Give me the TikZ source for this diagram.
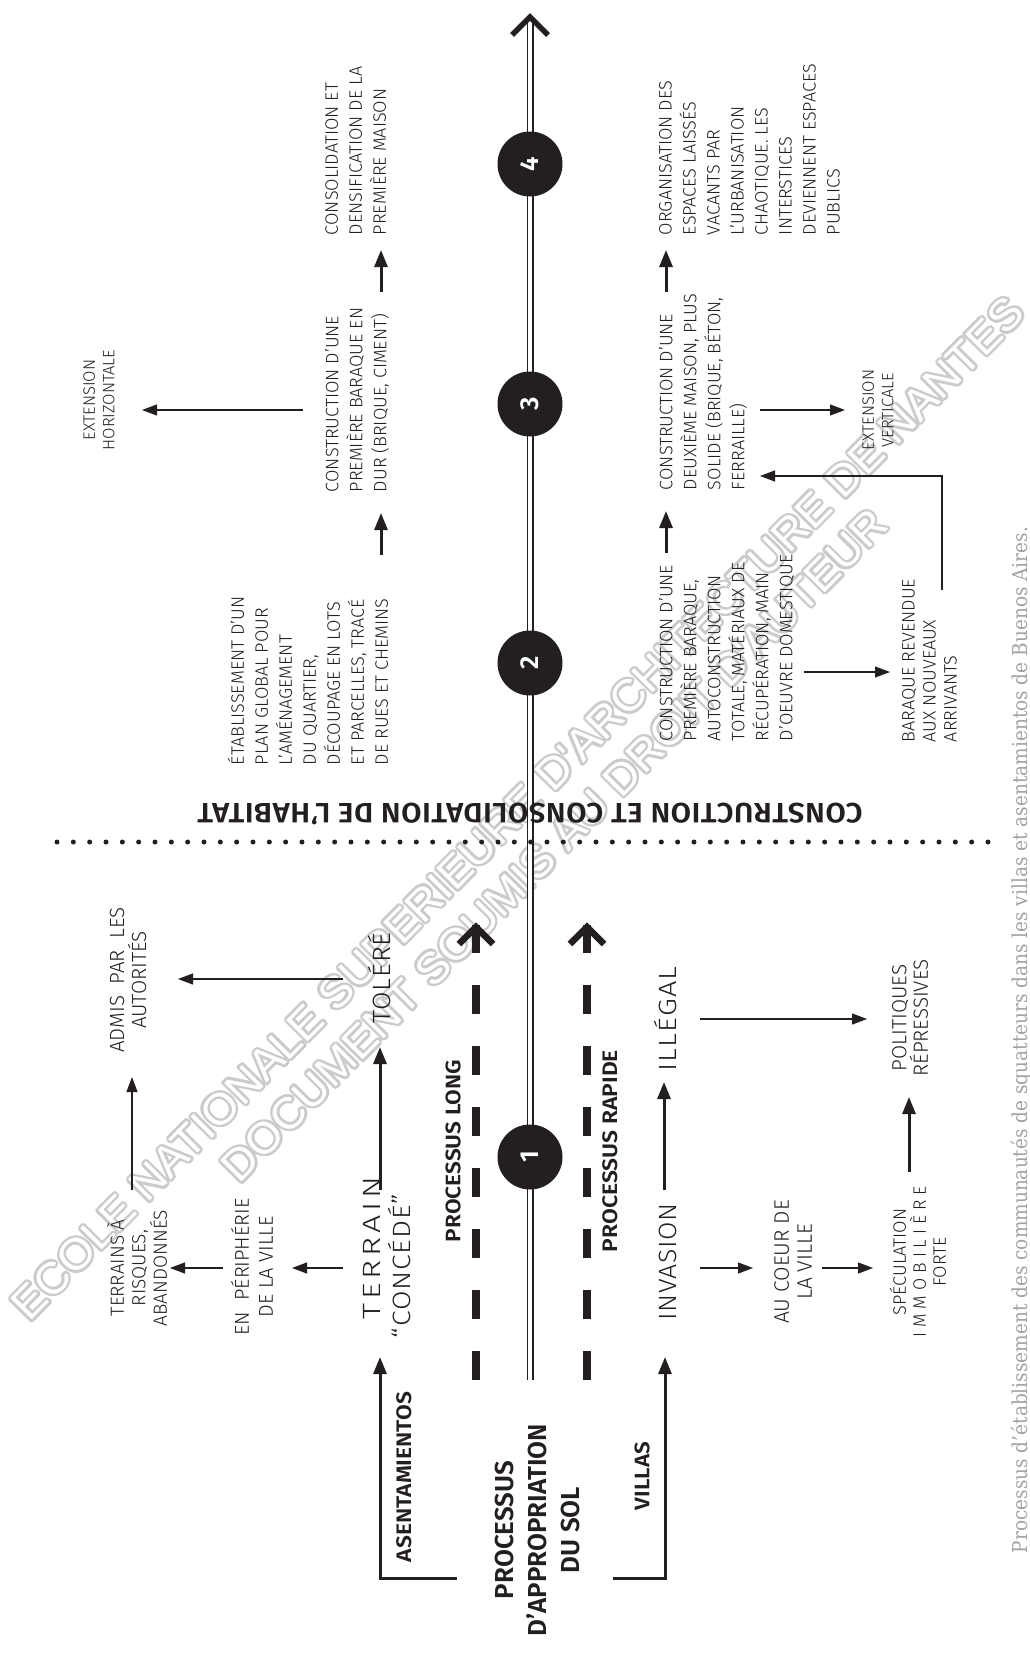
\documentclass[tikz,border=0pt]{standalone}
\usepackage{fontspec}
\usepackage{graphicx}
\IfFontExistsTF{Fira Sans SemiBold}{\def\fbold{Fira Sans SemiBold}}{\def\fbold{Fira Sans Bold}}
\IfFontExistsTF{Fira Sans Light}
  {\setmainfont{Fira Sans Light}[BoldFont=\fbold]}
  {\setmainfont{Fira Sans}}
\newfontfamily\capfont{DejaVu Serif}
\newfontfamily\wmfont{Liberation Sans}
\usetikzlibrary{arrows.meta,calc}
\definecolor{ink}{HTML}{231F20}
\definecolor{wmgray}{HTML}{CBCBCB}
\definecolor{capgray}{HTML}{A3A3A3}
\newcommand\fitw[2]{\resizebox{#1}{\height}{#2}}
\newcommand\fs[2]{\fontsize{#1}{#2}\selectfont}
\newcommand\lsp[2]{{\addfontfeatures{LetterSpace=#1}#2}}
\begin{document}
\begin{tikzpicture}[x=1pt,y=-1pt,
  base/.style={text=ink,inner sep=0pt,outer sep=0pt},
  txt/.style={base,rotate=90},
  blk/.style={txt,align=left,font=\fs{18}{24}},
  blktop/.style={blk,anchor=south west},
  blkbot/.style={blk,anchor=north west},
  lbl/.style={txt,align=center},
  big/.style={txt,anchor=base,font=\fs{25}{25}},
  boldlbl/.style={txt,font=\bfseries\fs{21}{21}},
  thinarr/.style={draw=ink,line width=1.1pt,-{Triangle[length=15pt,width=11pt]}},
  thickarr/.style={draw=ink,line width=3pt,line join=miter,-{Triangle[length=17pt,width=13pt]}},
  num/.style={circle,fill=ink,minimum size=65pt,inner sep=0pt,text=white,rotate=90,font=\bfseries\fs{26}{26}},
  wm/.style={inner sep=0pt,anchor=base,rotate=45.3,font=\wmfont\fs{44}{44}},
]
\useasboundingbox (0,0) rectangle (1029,1654);
\fill[white] (0,0) rectangle (1029,1654);

% ---------- watermark (outlined) ----------
\foreach \a [count=\k] in {0,24,...,336}{
  \node[wm,text=wmgray] (wmA\k) at ($(528.5,819)+(\a:2.4)$) {\fitw{1418pt}{ECOLE NATIONALE SUPERIEURE D'ARCHITECTURE DE NANTES}};
  \node[wm,text=wmgray] (wmB\k) at ($(565,856)+(\a:2.4)$) {\fitw{925pt}{DOCUMENT SOUMIS AU DROIT D'AUTEUR}};
}
\node[wm,text=white] (wmA) at (528.5,819) {\fitw{1418pt}{ECOLE NATIONALE SUPERIEURE D'ARCHITECTURE DE NANTES}};
\node[wm,text=white] (wmB) at (565,856) {\fitw{925pt}{DOCUMENT SOUMIS AU DROIT D'AUTEUR}};

% ---------- main axis ----------
\coordinate (axBot) at (530,1380);
\coordinate (axTop) at (530,22);
\draw[draw=ink,line width=1.3pt,double=white,double distance=4.4pt] (axBot) -- (axTop);
\draw[ink,line width=5.5pt,line join=miter] (512,35) -- (530,17) -- (548,35);

% process dashed arrows
\foreach \x in {476,587}{
  \draw[ink,line width=8pt,dash pattern=on 29pt off 32pt] (\x,1380) -- (\x,925);
  \draw[ink,line width=6.5pt,line join=miter] (\x-17,944) -- (\x,927) -- (\x+17,944);
}

% dotted separator
\foreach \i in {0,...,57}{
  \fill[ink] (57+\i*16.333,842) circle[radius=2.5pt];
}

% step circles
\node[num] (c1) at (530,1157) {1};
\node[num] (c2) at (530,663) {2};
\node[num] (c3) at (530,404) {3};
\node[num] (c4) at (530,164) {4};

% ---------- upper band (left of axis) ----------
\node[blktop] (etab) at (388,765) {ÉTABLISSEMENT D’UN\\PLAN GLOBAL POUR\\L’AMÉNAGEMENT\\DU QUARTIER,\\DÉCOUPAGE EN LOTS\\ET PARCELLES, TRACÉ\\DE RUES ET CHEMINS};
\node[blktop] (con1) at (389,492) {CONSTRUCTION D’UNE\\PREMIÈRE BARAQUE EN\\DUR (BRIQUE, CIMENT)};
\node[blktop] (consol) at (386,235) {CONSOLIDATION ET\\DENSIFICATION DE LA\\PREMIÈRE MAISON};
\node[lbl,font=\fs{16.5}{19.5}] (exth) at (99,400) {EXTENSION\\HORIZONTALE};

% ---------- lower band (right of axis) ----------
\node[blkbot] (con2) at (659,741) {CONSTRUCTION D’UNE\\PREMIÈRE BARAQUE,\\AUTOCONSTRUCTION\\TOTALE, MATÉRIAUX DE\\RÉCUPÉRATION, MAIN\\D’OEUVRE DOMESTIQUE};
\node[blkbot] (con3) at (659,490) {CONSTRUCTION D’UNE\\DEUXIÈME MAISON, PLUS\\SOLIDE (BRIQUE, BÉTON,\\FERRAILLE)};
\node[blkbot] (orga) at (659,235) {ORGANISATION DES\\ESPACES LAISSÉS\\VACANTS PAR\\L’URBANISATION\\CHAOTIQUE. LES\\INTERSTICES\\DEVIENNENT ESPACES\\PUBLICS};
\node[lbl,font=\fs{16.5}{19.5}] (extv) at (878,410) {EXTENSION\\VERTICALE};
\node[blkbot,font=\fs{18}{21}] (barq) at (902,742) {BARAQUE REVENDUE\\AUX NOUVEAUX\\ARRIVANTS};

% ---------- appropriation part ----------
\node[lbl,font=\fs{20.5}{22}] (admis) at (128,980) {ADMIS\ \ PAR\ \ LES\\AUTORITÉS};
\node[lbl,font=\fs{19}{21.5}] (terrains) at (137,1268) {TERRAINS À\\RISQUES,\\ABANDONNÉS};
\node[lbl,font=\fs{20}{24}] (periph) at (252,1267) {EN\ \ PÉRIPHÉRIE\\DE LA VILLE};
\node[big] (terrain) at (380,1248) {\fitw{143pt}{\lsp{12}{TERRAIN}}};
\node[big] (concede) at (410,1266) {\fitw{144pt}{\lsp{3}{“CONCÉDÉ”}}};
\node[big] (tolere) at (390,978) {\fitw{91pt}{\lsp{3}{TOLÉRÉ}}};
\node[big] (invasion) at (676,1262) {\fitw{117pt}{\lsp{2}{INVASION}}};
\node[big] (illegal) at (676,1019) {\fitw{105pt}{\lsp{4}{ILLÉGAL}}};
\node[lbl,font=\fs{21}{23}] (coeur) at (793,1262) {AU COEUR DE\\LA VILLE};
\node[lbl,font=\fs{18}{20}] (specu) at (918,1262) {SPÉCULATION\\\fitw{151pt}{I M M O B I L I È R E}\\FORTE};
\node[lbl,font=\fs{20.5}{21.5}] (polit) at (910,1018) {POLITIQUES\\RÉPRESSIVES};

\node[boldlbl] (plong) at (453,1151) {\fitw{182pt}{PROCESSUS LONG}};
\node[boldlbl] (prapide) at (610,1151) {\fitw{202pt}{PROCESSUS RAPIDE}};
\node[boldlbl] (asent) at (404,1477) {\fitw{170pt}{ASENTAMIENTOS}};
\node[boldlbl] (villas) at (642,1476) {\fitw{68pt}{VILLAS}};
\node[txt,align=center,font=\bfseries\fs{26}{33}] (title) at (537,1530) {PROCESSUS\\D’APPROPRIATION\\DU SOL};
\node[base,rotate=180,font=\bfseries\fs{28}{28}] (habitat) at (530,814) {\fitw{665pt}{\lsp{2}{CONSTRUCTION ET CONSOLIDATION DE L’HABITAT}}};

% caption
\node[base,rotate=90,anchor=base,text=capgray,font=\capfont\fs{20.5}{20.5}] (caption) at (1027,1040) {\fitw{1026pt}{Processus d’établissement des communautés de squatteurs dans les villas et asentamientos de Buenos Aires.}};

% ---------- connector ends ----------
\coordinate (a1s) at (303,410);  \coordinate (a1e) at (142,410);
\coordinate (a2s) at (381,555);  \coordinate (a2e) at (381,513);
\coordinate (a3s) at (381,292);  \coordinate (a3e) at (381,250);
\coordinate (a4s) at (666,553);  \coordinate (a4e) at (666,511);
\coordinate (a5s) at (666,292);  \coordinate (a5e) at (666,250);
\coordinate (a6s) at (760,410);  \coordinate (a6e) at (845,410);
\coordinate (a7s) at (942,590);  \coordinate (a7e) at (760,476);
\coordinate (a8s) at (804,672);  \coordinate (a8e) at (890,672);
\coordinate (b1s) at (343,979);  \coordinate (b1e) at (178,979);
\coordinate (b2s) at (132,1190); \coordinate (b2e) at (132,1077);
\coordinate (b3s) at (223,1268); \coordinate (b3e) at (170,1268);
\coordinate (b4s) at (343,1268); \coordinate (b4e) at (292,1268);
\coordinate (b5s) at (380,1190); \coordinate (b5e) at (380,1047);
\coordinate (b6s) at (664,1190); \coordinate (b6e) at (664,1082);
\coordinate (b7s) at (700,1019); \coordinate (b7e) at (867,1019);
\coordinate (b8s) at (700,1268); \coordinate (b8e) at (753,1268);
\coordinate (b9s) at (822,1268); \coordinate (b9e) at (873,1268);
\coordinate (b10s) at (909,1172); \coordinate (b10e) at (909,1097);
\coordinate (asentB) at (457,1578); \coordinate (asentE) at (380,1357);
\coordinate (villasB) at (613,1578); \coordinate (villasE) at (665,1357);

\draw[thinarr] (a1s) -- (a1e);
\draw[thickarr] (a2s) -- (a2e);
\draw[thickarr] (a3s) -- (a3e);
\draw[thickarr] (a4s) -- (a4e);
\draw[thickarr] (a5s) -- (a5e);
\draw[thinarr] (a6s) -- (a6e);
\draw[thinarr] (a7s) |- (a7e);
\draw[thinarr] (a8s) -- (a8e);
\draw[thinarr] (b1s) -- (b1e);
\draw[thinarr] (b2s) -- (b2e);
\draw[thinarr] (b3s) -- (b3e);
\draw[thinarr] (b4s) -- (b4e);
\draw[thickarr] (b5s) -- (b5e);
\draw[thickarr] (b6s) -- (b6e);
\draw[thinarr] (b7s) -- (b7e);
\draw[thinarr] (b8s) -- (b8e);
\draw[thinarr] (b9s) -- (b9e);
\draw[thickarr] (b10s) -- (b10e);
\draw[thickarr] (asentB) -| (asentE);
\draw[thickarr] (villasB) -| (villasE);
\end{tikzpicture}
\end{document}
